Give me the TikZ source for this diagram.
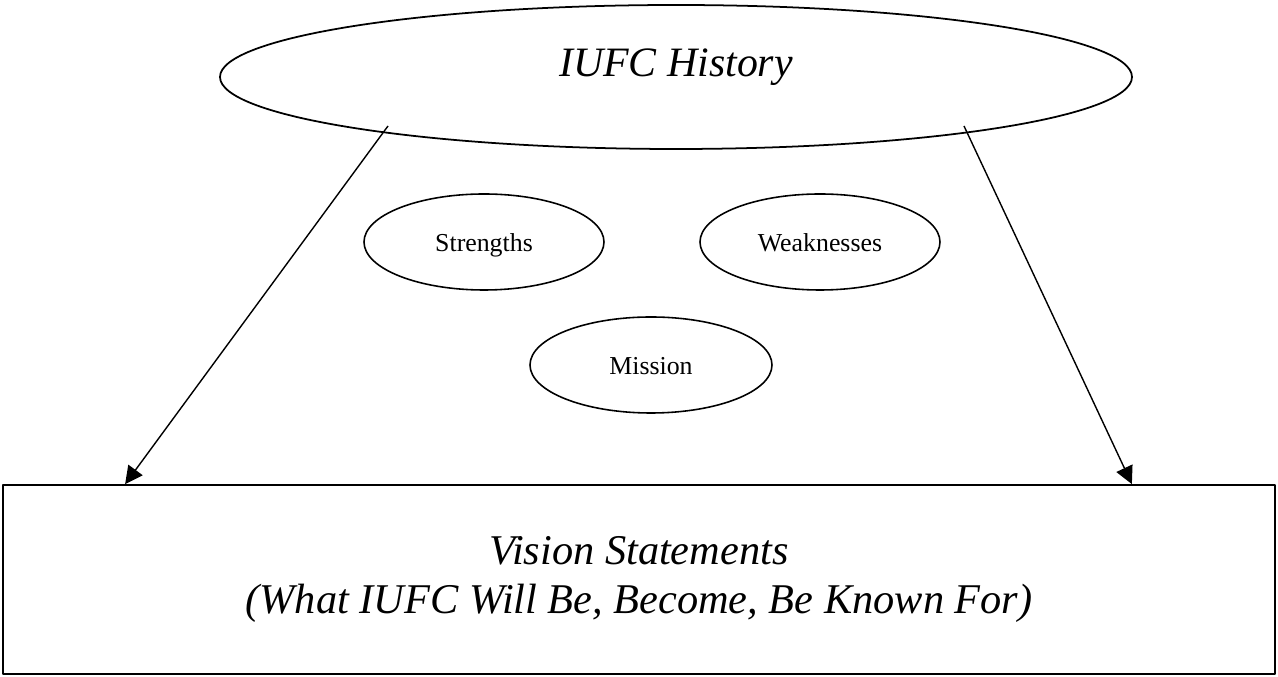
\documentclass[tikz,border=0pt]{standalone}
\usepackage{fontspec}
\setmainfont{Liberation Serif}
\usetikzlibrary{shapes.geometric,arrows.meta}
\begin{document}
\begin{tikzpicture}[line join=round, >={Triangle[length=10pt,width=10pt]},
	bigell/.style={ellipse, draw, line width=1pt, inner sep=0pt, minimum width=18.24cm, minimum height=2.88cm, text height=0pt, text depth=0pt, font=\fontsize{23.8pt}{27pt}\selectfont\itshape},
	smallell/.style={ellipse, draw, line width=0.9pt, inner sep=0pt, minimum width=4.8cm, minimum height=1.92cm, text height=0.4cm, text depth=0pt, font=\fontsize{14.7pt}{17pt}\selectfont},
	visbox/.style={rectangle, draw, line width=1pt, minimum width=25.44cm, minimum height=3.78cm, align=center, font=\fontsize{24.1pt}{27.4pt}\selectfont\itshape}]
	\useasboundingbox (0,0) rectangle (25.56,13.54);
	\node[bigell] (hist) at (13.52,12.0) {IUFC History\hspace{0.56cm}};
	\node[smallell] (str) at (9.68,8.7) {Strengths\hspace{0.16cm}};
	\node[smallell] (weak) at (16.4,8.7) {Weaknesses\hspace{0.52cm}};
	\node[smallell, minimum width=4.84cm] (miss) at (13.02,6.24) {Mission\hspace{0.44cm}};
	\node[visbox] (vis) at (12.78,1.95) {Vision Statements\\(What IUFC Will Be, Become, Be Known For)};
	\draw[->, line width=0.8pt] ([xshift=-5.76cm,yshift=-0.98cm]hist.center) -- ([xshift=2.46cm]vis.north west);
	\draw[->, line width=0.8pt] ([xshift=5.76cm,yshift=-0.98cm]hist.center) -- ([xshift=-2.88cm]vis.north east);
\end{tikzpicture}
\end{document}
